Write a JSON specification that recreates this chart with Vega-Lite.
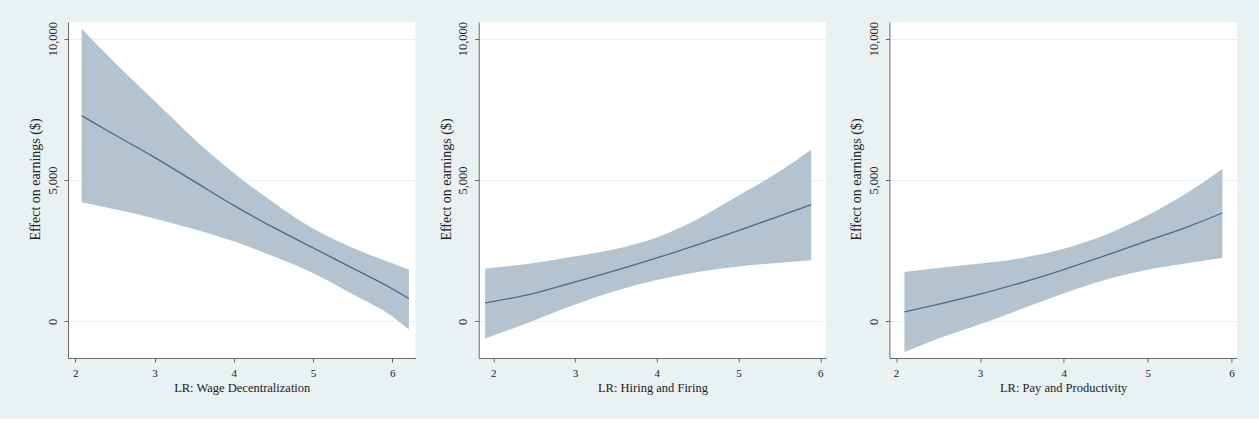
{
  "$schema": "https://vega.github.io/schema/vega-lite/v6.json",
  "background": "#e9f1f3",
  "padding": {"left": 28, "top": 21, "right": 22, "bottom": 24},
  "spacing": 62.7,
  "bounds": "flush",
  "config": {
    "view": {"fill": "white", "stroke": null},
    "font": "Liberation Serif",
    "axis": {
      "domainColor": "#666666",
      "tickColor": "#666666",
      "tickSize": 4,
      "labelColor": "#222222",
      "titleColor": "#222222",
      "labelFont": "Liberation Serif",
      "titleFont": "Liberation Serif",
      "titleFontWeight": "normal",
      "gridColor": "#e7eff1",
      "labelFlush": false
    }
  },
  "datasets": {
    "p1": [
      {"x": 2.08, "lo": 4209, "est": 7275, "hi": 10352},
      {"x": 2.5, "lo": 3960, "est": 6590, "hi": 9150},
      {"x": 3.0, "lo": 3640, "est": 5800, "hi": 7800},
      {"x": 3.5, "lo": 3260, "est": 4950, "hi": 6450},
      {"x": 4.0, "lo": 2830, "est": 4100, "hi": 5250},
      {"x": 4.5, "lo": 2300, "est": 3320, "hi": 4200},
      {"x": 5.0, "lo": 1710, "est": 2600, "hi": 3280},
      {"x": 5.5, "lo": 960, "est": 1880, "hi": 2600},
      {"x": 6.0, "lo": 180, "est": 1150, "hi": 2050},
      {"x": 6.21, "lo": -290, "est": 800, "hi": 1830}
    ],
    "p2": [
      {"x": 1.9, "lo": -613, "est": 648, "hi": 1863},
      {"x": 2.5, "lo": 30, "est": 990, "hi": 2063},
      {"x": 3.0, "lo": 590, "est": 1390, "hi": 2299},
      {"x": 3.5, "lo": 1080, "est": 1800, "hi": 2560},
      {"x": 4.0, "lo": 1460, "est": 2240, "hi": 2960},
      {"x": 4.5, "lo": 1740, "est": 2715, "hi": 3620},
      {"x": 5.0, "lo": 1940, "est": 3210, "hi": 4450},
      {"x": 5.5, "lo": 2070, "est": 3720, "hi": 5300},
      {"x": 5.89, "lo": 2158, "est": 4127, "hi": 6072}
    ],
    "p3": [
      {"x": 2.1, "lo": -1085, "est": 330, "hi": 1745},
      {"x": 2.5, "lo": -620, "est": 600, "hi": 1886},
      {"x": 3.0, "lo": -110, "est": 960, "hi": 2040},
      {"x": 3.5, "lo": 440, "est": 1370, "hi": 2240},
      {"x": 4.0, "lo": 990, "est": 1830, "hi": 2570},
      {"x": 4.5, "lo": 1470, "est": 2330, "hi": 3065},
      {"x": 5.0, "lo": 1820, "est": 2850, "hi": 3749},
      {"x": 5.5, "lo": 2070, "est": 3370, "hi": 4598},
      {"x": 5.89, "lo": 2240, "est": 3832, "hi": 5388}
    ]
  },
  "hconcat": [
    {
      "width": 347.5, "height": 336,
      "data": {"name": "p1"},
      "layer": [
        {
          "mark": {"type": "area", "color": "#b3c3d0", "opacity": 1, "interpolate": "monotone"},
          "encoding": {
            "x": {"field": "x", "type": "quantitative", "scale": {"domain": [1.908, 6.294], "nice": false, "zero": false},
                  "axis": {"title": "LR: Wage Decentralization", "values": [2, 3, 4, 5, 6], "format": "d", "grid": false, "labelFontSize": 11, "labelPadding": 5, "titleFontSize": 12.5, "titleY": 23.6}},
            "y": {"field": "lo", "type": "quantitative", "scale": {"domain": [-1300, 10590], "nice": false, "zero": false},
                  "axis": {"title": "Effect on earnings ($)", "values": [0, 5000, 10000], "format": ",d", "grid": true, "labelAngle": -90, "labelAlign": "center", "labelBaseline": "bottom", "labelPadding": 5, "labelFontSize": 12.5, "titleFontSize": 14, "titleX": -25.5, "titleY": 157}},
            "y2": {"field": "hi"}
          }
        },
        {
          "mark": {"type": "line", "color": "#4a6a8a", "strokeWidth": 1.3, "interpolate": "monotone"},
          "encoding": {
            "x": {"field": "x", "type": "quantitative"},
            "y": {"field": "est", "type": "quantitative"}
          }
        }
      ]
    },
    {
      "width": 347.5, "height": 336,
      "data": {"name": "p2"},
      "layer": [
        {
          "mark": {"type": "area", "color": "#b3c3d0", "opacity": 1, "interpolate": "monotone"},
          "encoding": {
            "x": {"field": "x", "type": "quantitative", "scale": {"domain": [1.821, 6.073], "nice": false, "zero": false},
                  "axis": {"title": "LR: Hiring and Firing", "values": [2, 3, 4, 5, 6], "format": "d", "grid": false, "labelFontSize": 11, "labelPadding": 5, "titleFontSize": 12.5, "titleY": 23.6}},
            "y": {"field": "lo", "type": "quantitative", "scale": {"domain": [-1300, 10590], "nice": false, "zero": false},
                  "axis": {"title": "Effect on earnings ($)", "values": [0, 5000, 10000], "format": ",d", "grid": true, "labelAngle": -90, "labelAlign": "center", "labelBaseline": "bottom", "labelPadding": 5, "labelFontSize": 12.5, "titleFontSize": 14, "titleX": -25.5, "titleY": 157}},
            "y2": {"field": "hi"}
          }
        },
        {
          "mark": {"type": "line", "color": "#4a6a8a", "strokeWidth": 1.3, "interpolate": "monotone"},
          "encoding": {
            "x": {"field": "x", "type": "quantitative"},
            "y": {"field": "est", "type": "quantitative"}
          }
        }
      ]
    },
    {
      "width": 347.5, "height": 336,
      "data": {"name": "p3"},
      "layer": [
        {
          "mark": {"type": "area", "color": "#b3c3d0", "opacity": 1, "interpolate": "monotone"},
          "encoding": {
            "x": {"field": "x", "type": "quantitative", "scale": {"domain": [1.921, 6.063], "nice": false, "zero": false},
                  "axis": {"title": "LR: Pay and Productivity", "values": [2, 3, 4, 5, 6], "format": "d", "grid": false, "labelFontSize": 11, "labelPadding": 5, "titleFontSize": 12.5, "titleY": 23.6}},
            "y": {"field": "lo", "type": "quantitative", "scale": {"domain": [-1300, 10590], "nice": false, "zero": false},
                  "axis": {"title": "Effect on earnings ($)", "values": [0, 5000, 10000], "format": ",d", "grid": true, "labelAngle": -90, "labelAlign": "center", "labelBaseline": "bottom", "labelPadding": 5, "labelFontSize": 12.5, "titleFontSize": 14, "titleX": -25.5, "titleY": 157}},
            "y2": {"field": "hi"}
          }
        },
        {
          "mark": {"type": "line", "color": "#4a6a8a", "strokeWidth": 1.3, "interpolate": "monotone"},
          "encoding": {
            "x": {"field": "x", "type": "quantitative"},
            "y": {"field": "est", "type": "quantitative"}
          }
        }
      ]
    }
  ]
}
